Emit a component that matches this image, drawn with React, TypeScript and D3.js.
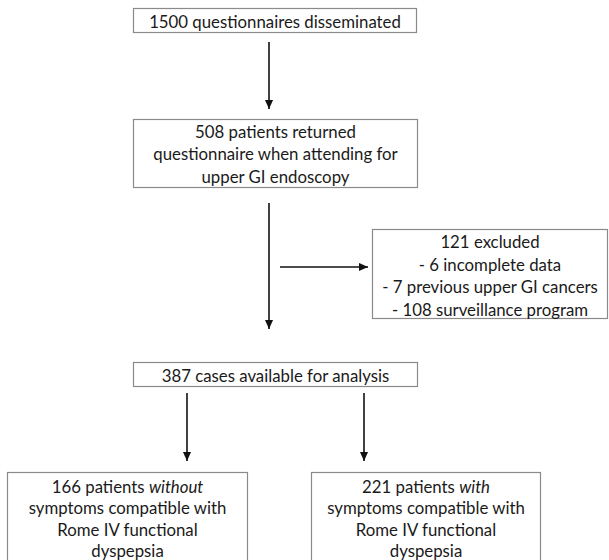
import { useEffect, useRef } from "react";
import * as d3 from "d3";

// Flow chart content
const topText = ["1500 questionnaires disseminated"];
const returnedText = [
  "508 patients returned",
  "questionnaire when attending for",
  "upper GI endoscopy",
];
const excludedText = [
  "121 excluded",
  "- 6 incomplete data",
  "- 7 previous upper GI cancers",
  "- 108 surveillance program",
];
const analysisText = ["387 cases available for analysis"];
const withoutText = [
  "166 patients *without*",
  "symptoms compatible with",
  "Rome IV functional",
  "dyspepsia",
];
const withText = [
  "221 patients *with*",
  "symptoms compatible with",
  "Rome IV functional",
  "dyspepsia",
];

interface Box {
  id: string;
  lines: string[];
  x: number;
  y: number;
  w: number;
  h: number;
  firstLine: number;
  lineGap: number;
}

const BOXES: Box[] = [
  { id: "top", lines: topText, x: 133.5, y: 8.5, w: 283, h: 24, firstLine: 20.5, lineGap: 22 },
  { id: "returned", lines: returnedText, x: 133.5, y: 119.5, w: 284, h: 68, firstLine: 130.5, lineGap: 22.5 },
  { id: "excluded", lines: excludedText, x: 372.5, y: 229.5, w: 235, h: 89, firstLine: 241, lineGap: 22.5 },
  { id: "analysis", lines: analysisText, x: 133.5, y: 362.5, w: 284, h: 24, firstLine: 374.5, lineGap: 22 },
  { id: "without", lines: withoutText, x: 7.5, y: 472.5, w: 240, h: 100, firstLine: 486, lineGap: 21.4 },
  { id: "with", lines: withText, x: 311.5, y: 472.5, w: 229, h: 100, firstLine: 486, lineGap: 21.4 },
];

const ARROWS: [number, number, number, number][] = [
  [269, 42, 269, 109],
  [269, 203, 269, 329],
  [280, 267, 368, 267],
  [187, 393, 187, 461],
  [364, 393, 364, 461],
];

const FONT = "Lato, 'Open Sans', sans-serif";

export default function App() {
  const svgRef = useRef<SVGSVGElement>(null);

  useEffect(() => {
    if (!svgRef.current) return;
    const svg = d3.select(svgRef.current);
    svg.selectAll("*").remove();

    svg.append("rect").attr("width", 609).attr("height", 560).attr("fill", "#fff");

    const defs = svg.append("defs");
    defs
      .append("marker")
      .attr("id", "head")
      .attr("viewBox", "0 0 10 10")
      .attr("refX", 10)
      .attr("refY", 5)
      .attr("markerWidth", 10)
      .attr("markerHeight", 9)
      .attr("markerUnits", "userSpaceOnUse")
      .attr("orient", "auto")
      .append("path")
      .attr("d", "M0,0.5 L10,5 L0,9.5 Z")
      .attr("fill", "#111");

    // boxes
    const g = svg
      .selectAll("g.box")
      .data(BOXES)
      .join("g")
      .attr("class", "box");

    g.append("rect")
      .attr("x", (d) => d.x)
      .attr("y", (d) => d.y)
      .attr("width", (d) => d.w)
      .attr("height", (d) => d.h)
      .attr("fill", "#fff")
      .attr("stroke", "#8a8a8a")
      .attr("stroke-width", 1.2);

    g.each(function (d) {
      const cx = d.x + d.w / 2;
      const sel = d3.select(this);
      d.lines.forEach((line, i) => {
        const t = sel
          .append("text")
          .attr("x", cx)
          .attr("y", d.firstLine + i * d.lineGap)
          .attr("text-anchor", "middle")
          .attr("dominant-baseline", "central")
          .attr("font-family", FONT)
          .attr("font-size", "16.8px")
          .attr("fill", "#1a1a1a");
        // *word* marks italic parts
        line.split(/(\*[^*]+\*)/).filter((s) => s.length).forEach((part) => {
          const it = part.startsWith("*");
          t.append("tspan")
            .attr("font-style", it ? "italic" : "normal")
            .text(it ? part.slice(1, -1) : part);
        });
      });
    });

    // arrows
    svg
      .selectAll("line.arrow")
      .data(ARROWS)
      .join("line")
      .attr("class", "arrow")
      .attr("x1", (d) => d[0])
      .attr("y1", (d) => d[1])
      .attr("x2", (d) => d[2])
      .attr("y2", (d) => d[3])
      .attr("stroke", "#111")
      .attr("stroke-width", 1.6)
      .attr("marker-end", "url(#head)");
  }, []);

  return (
    <svg
      ref={svgRef}
      width={609}
      height={560}
      style={{ position: "absolute", left: 0, top: 0 }}
    />
  );
}
